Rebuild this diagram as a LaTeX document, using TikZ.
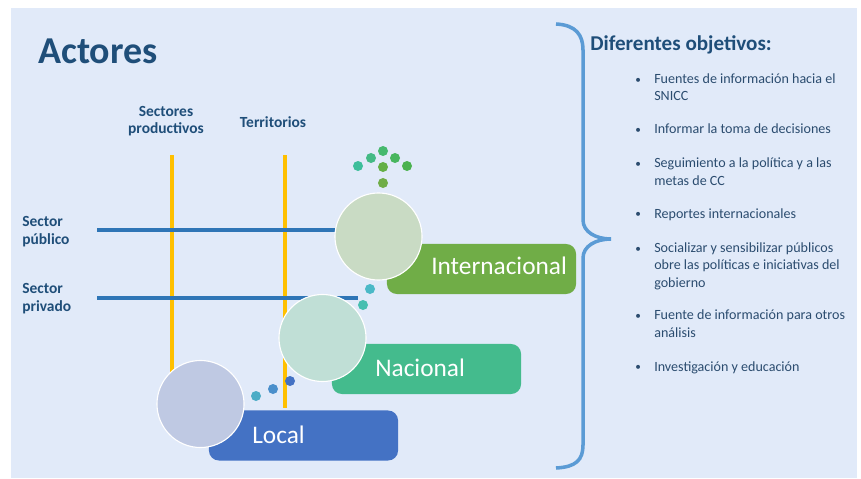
\documentclass[tikz,border=0pt]{standalone}
\usepackage{fontspec}
\setmainfont{Carlito}
\usepackage{xcolor}
\usetikzlibrary{positioning}
\definecolor{fondo}{HTML}{E1EAF9}
\definecolor{azultitulo}{HTML}{1F4E79}
\definecolor{azultexto}{HTML}{2B4C6F}
\definecolor{amarillo}{HTML}{FFC000}
\definecolor{azullinea}{HTML}{2E75B6}
\definecolor{azulllave}{HTML}{5B9BD5}
\definecolor{verde}{HTML}{70AD47}
\definecolor{verdeagua}{HTML}{44BB8D}
\definecolor{azul}{HTML}{4472C4}
\definecolor{circint}{HTML}{C9DBC4}
\definecolor{circnac}{HTML}{C0DFD6}
\definecolor{circloc}{HTML}{BFC9E3}
% puntos
\definecolor{pf1}{RGB}{61,190,155}
\definecolor{pf2}{RGB}{67,186,133}
\definecolor{pf3}{RGB}{70,185,110}
\definecolor{pf4}{RGB}{72,182,95}
\definecolor{pf5}{RGB}{75,178,80}
\definecolor{pf6}{RGB}{100,175,70}
\definecolor{pf7}{RGB}{112,173,71}
\definecolor{pn1}{RGB}{75,185,199}
\definecolor{pn2}{RGB}{71,191,176}
\definecolor{pl1}{RGB}{75,172,198}
\definecolor{pl2}{RGB}{74,143,203}
\tikzset{
	% textos
	titulo/.style={
		font=\fontsize{27}{30}\selectfont\bfseries,
		text=azultitulo,
		inner sep=0pt
	}, %
	eje/.style={
		font=\fontsize{11}{12.8}\selectfont\bfseries,
		text=azultitulo,
		align=center,
		inner sep=0pt
	}, %
	item/.style={
		font=\fontsize{10}{12.1}\selectfont,
		text=azultexto,
		align=left,
		anchor=base west,
		inner sep=0pt
	}, %
	vineta/.style={
		item,
		font=\fontsize{8}{10}\selectfont
	}, %
	% niveles
	nivel/.style={
		fill=#1,
		rounded corners=7pt,
		minimum width=4.725cm,
		minimum height=1.25cm,
		inner sep=0pt
	}, %
	nombre/.style={
		font=\fontsize{18}{20}\selectfont,
		text=white,
		anchor=base west,
		inner sep=0pt
	}, %
	circulo/.style={
		circle,
		draw=white,
		line width=0.8pt,
		fill=#1,
		minimum size=2.175cm,
		inner sep=0pt
	}, %
	punto/.style={
		circle,
		fill=#1,
		minimum size=0.25cm,
		inner sep=0pt
	} %
}

\begin{document}
\begin{tikzpicture}[x=0.025cm, y=-0.025cm]
	% fondo
	\useasboundingbox (0,0) rectangle (861,479);
	\fill[fondo] (11,8) rectangle (857,478);
	
	% titulo
	\node[titulo, anchor=base west] (actores) at (38,64) {Actores};
	
	% ejes (base = ultima linea)
	\node[eje, anchor=base] (productivos) at (166,134) {Sectores\\productivos};
	\node[eje, anchor=base] (territorios) at (273,127) {Territorios};
	\node[eje, anchor=base west, align=left] (publico) at (22,244) {Sector\\público};
	\node[eje, anchor=base west, align=left] (privado) at (22,311) {Sector\\privado};
	
	% lineas amarillas
	\coordinate (prodA) at (172,155);
	\coordinate (prodB) at (172,400);
	\coordinate (terrA) at (285,155);
	\coordinate (terrB) at (285,408);
	\draw[amarillo, line width=2.8pt] (prodA)--(prodB);
	\draw[amarillo, line width=2.8pt] (terrA)--(terrB);
	
	% lineas azules
	\coordinate (pubA) at (97,230);
	\coordinate (pubB) at (360,230);
	\coordinate (privA) at (97,298);
	\coordinate (privB) at (358,298);
	\draw[azullinea, line width=2.5pt] (pubA)--(pubB);
	\draw[azullinea, line width=2.5pt] (privA)--(privB);
	
	% niveles
	\node[nivel=verde] (int) at (481.5,269) {};
	\node[nivel=verdeagua] (nac) at (426.5,369) {};
	\node[nivel=azul] (loc) at (303.5,435.5) {};
	\node[nombre] (tint) at (431,274) {Internacional};
	\node[nombre] (tnac) at (375,376) {Nacional};
	\node[nombre] (tloc) at (252,443) {Local};
	
	% circulos
	\node[circulo=circint] (cint) at (378.5,236.5) {};
	\node[circulo=circnac] (cnac) at (322.5,338) {};
	\node[circulo=circloc] (cloc) at (200.5,404) {};
	
	% puntos
	\node[punto=pf1] (f1) at (358,166) {};
	\node[punto=pf2] (f2) at (371,158) {};
	\node[punto=pf3] (f3) at (383,151) {};
	\node[punto=pf4] (f4) at (395,158) {};
	\node[punto=pf5] (f5) at (407,166) {};
	\node[punto=pf6] (f6) at (383,167) {};
	\node[punto=pf7] (f7) at (383,183) {};
	
	\node[punto=pn1] (n1) at (370,289) {};
	\node[punto=pn2] (n2) at (363,305) {};
	
	\node[punto=pl1] (l1) at (256,396) {};
	\node[punto=pl2] (l2) at (273,389) {};
	\node[punto=azul] (l3) at (290,381) {};
	
	% llave
	\draw[azulllave, line width=2.5pt] (556,24) .. controls (576,25) and (583,35) .. (583,50)
		--(583,220) .. controls (583,232) and (596,239) .. (611,239)
		.. controls (596,239) and (583,246) .. (583,258)
		--(583,445) .. controls (583,460) and (576,467) .. (556,468);
	
	% objetivos
	\node[titulo, font=\fontsize{15}{18}\selectfont\bfseries, anchor=base west] (objetivos) at (590,51) {Diferentes objetivos:};
	
	\node[vineta] (b1) at (635,83) {\textbullet};
	\node[item] (o1) at (654,101) {Fuentes de información hacia el\\SNICC};
	\node[vineta] (b2) at (635,133) {\textbullet};
	\node[item] (o2) at (654,134) {Informar la toma de decisiones};
	\node[vineta] (b3) at (635,167) {\textbullet};
	\node[item] (o3) at (654,185) {Seguimiento a la política y a las\\metas de CC};
	\node[vineta] (b4) at (635,217) {\textbullet};
	\node[item] (o4) at (654,218) {Reportes internacionales};
	\node[vineta] (b5) at (635,252) {\textbullet};
	\node[item] (o5) at (654,287) {Socializar y sensibilizar públicos\\obre las políticas e iniciativas del\\gobierno};
	\node[vineta] (b6) at (635,319) {\textbullet};
	\node[item] (o6) at (654,337) {Fuente de información para otros\\análisis};
	\node[vineta] (b7) at (635,370) {\textbullet};
	\node[item] (o7) at (654,371) {Investigación y educación};
\end{tikzpicture}
\end{document}
